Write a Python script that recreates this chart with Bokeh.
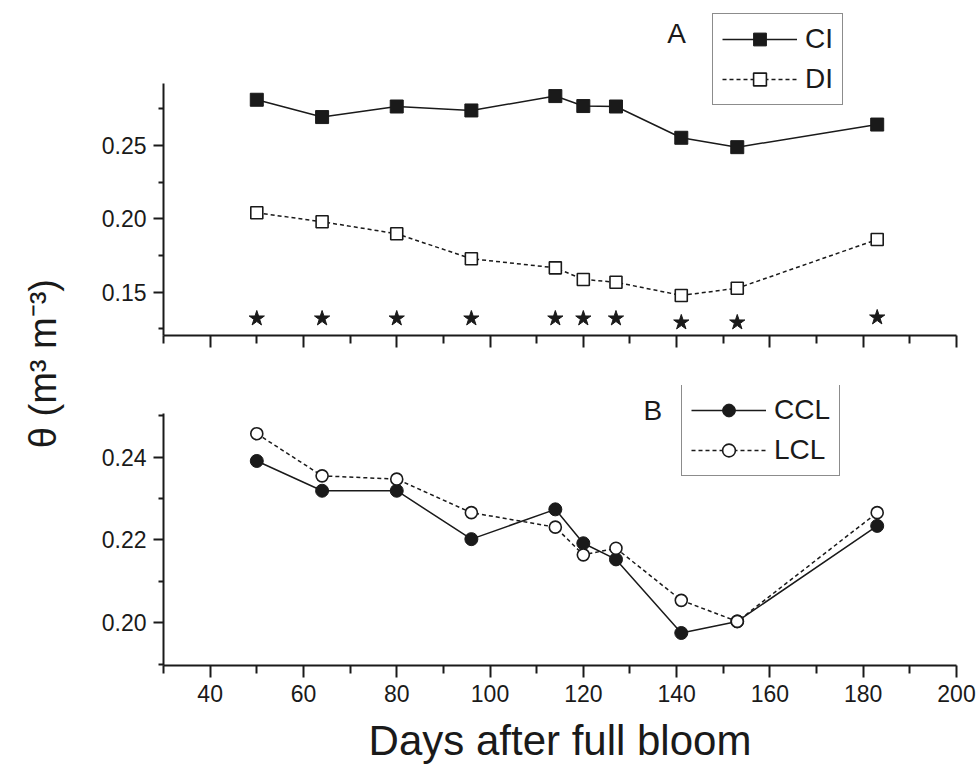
from bokeh.plotting import figure
from bokeh.layouts import row, column
from bokeh.models import (FixedTicker, PrintfTickFormatter, Legend, LegendItem, Label,
                          CustomJSTickFormatter, Range1d)
from bokeh.embed import file_html
from bokeh.resources import INLINE

# ---- data ----
days = [50, 64, 80, 96, 114, 120, 127, 141, 153, 183]
ci = [0.2811, 0.2693, 0.2765, 0.2738, 0.2836, 0.2768, 0.2765, 0.2552, 0.2488, 0.2642]
di = [0.2041, 0.1980, 0.1898, 0.1728, 0.1666, 0.1587, 0.1568, 0.1478, 0.1527, 0.1859]
star_y = [0.1321, 0.1321, 0.1321, 0.1321, 0.1321, 0.1321, 0.1321, 0.1294, 0.1294, 0.1328]
ccl = [0.2391, 0.2319, 0.2319, 0.2202, 0.2274, 0.2192, 0.2153, 0.1975, 0.2003, 0.2234]
lcl = [0.2457, 0.2355, 0.2347, 0.2266, 0.2231, 0.2164, 0.2180, 0.2054, 0.2003, 0.2266]

x_major = [40, 60, 80, 100, 120, 140, 160, 180, 200]
x_minor = [30, 50, 70, 90, 110, 130, 150, 170, 190]
ya_major = [0.15, 0.20, 0.25]
ya_minor = [0.125, 0.175, 0.225, 0.275]
yb_major = [0.20, 0.22, 0.24]
yb_minor = [0.19, 0.21, 0.23, 0.25]

FONT = "Liberation Sans"
INK = "#1a1a1a"
W = 910


def style(p, ymaj, ymin, bounds):
    p.xgrid.visible = False
    p.ygrid.visible = False
    p.outline_line_color = None
    p.background_fill_color = "white"
    p.border_fill_color = "white"
    p.xaxis.ticker = FixedTicker(ticks=x_major, minor_ticks=x_minor)
    p.yaxis.ticker = FixedTicker(ticks=ymaj, minor_ticks=ymin)
    p.yaxis.bounds = bounds
    p.yaxis.formatter = PrintfTickFormatter(format="%.2f")
    for ax in (p.xaxis, p.yaxis):
        ax.axis_line_width = 2
        ax.axis_line_color = INK
        ax.major_tick_line_width = 2
        ax.minor_tick_line_width = 2
        ax.major_tick_line_color = INK
        ax.minor_tick_line_color = INK
        ax.major_tick_in = 0
        ax.minor_tick_in = 0
        ax.major_label_text_font = FONT
        ax.major_label_text_font_size = "23px"
        ax.major_label_text_color = INK
    p.yaxis.major_tick_out = 10
    p.yaxis.minor_tick_out = 5
    p.yaxis.major_label_standoff = 7
    p.xaxis.major_tick_out = 12
    p.xaxis.minor_tick_out = 8
    p.xaxis.major_label_standoff = 7


def legend(p, items, loc):
    lg = Legend(items=items, location=loc, label_text_font=FONT, label_text_font_size="28px",
                label_text_color=INK, glyph_width=75, glyph_height=32, padding=9, spacing=8,
                label_standoff=8, margin=0, border_line_color=INK, border_line_width=1.5,
                background_fill_color="white", background_fill_alpha=1.0)
    p.add_layout(lg)


# ---- panel A ----
top = figure(width=W, height=360, x_range=Range1d(30, 200), y_range=Range1d(0.1205, 0.3419),
             output_backend="svg", toolbar_location=None,
             min_border_left=95, min_border_right=22, min_border_top=10, min_border_bottom=25)
style(top, ya_major, ya_minor, (0.1205, 0.2922))
top.xaxis.formatter = CustomJSTickFormatter(code="return ''")

l1 = top.line(days, ci, line_color=INK, line_width=1.5)
m1 = top.scatter(days, ci, marker="square", size=13, fill_color=INK, line_color=INK)
l2 = top.line(days, di, line_color=INK, line_width=1.5, line_dash="4 3")
m2 = top.scatter(days, di, marker="square", size=12, fill_color="white", line_color=INK, line_width=1.6)
top.scatter(days, star_y, marker="star", size=16, fill_color=INK, line_color=INK)
legend(top, [LegendItem(label="CI", renderers=[l1, m1]), LegendItem(label="DI", renderers=[l2, m2])], (549, 230))
top.add_layout(Label(x=140.0, y=0.3262, text="A", text_font=FONT, text_font_size="28px",
                     text_color=INK, text_align="center", text_baseline="middle"))

# ---- panel B ----
bot = figure(width=W, height=406, x_range=top.x_range, y_range=Range1d(0.18964, 0.25735),
             output_backend="svg", toolbar_location=None,
             min_border_left=95, min_border_right=22, min_border_top=25, min_border_bottom=100)
style(bot, yb_major, yb_minor, (0.18964, 0.2506))
bot.xaxis.axis_label = "Days after full bloom"
bot.xaxis.axis_label_text_font = FONT
bot.xaxis.axis_label_text_font_size = "42px"
bot.xaxis.axis_label_text_font_style = "normal"
bot.xaxis.axis_label_text_color = INK
bot.xaxis.axis_label_standoff = 12

l3 = bot.line(days, ccl, line_color=INK, line_width=1.5)
m3 = bot.scatter(days, ccl, marker="circle", size=13, fill_color=INK, line_color=INK)
l4 = bot.line(days, lcl, line_color=INK, line_width=1.5, line_dash="4 3")
m4 = bot.scatter(days, lcl, marker="circle", size=12, fill_color="white", line_color=INK, line_width=1.6)
legend(bot, [LegendItem(label="CCL", renderers=[l3, m3]), LegendItem(label="LCL", renderers=[l4, m4])], (518, 189))
bot.add_layout(Label(x=134.9, y=0.2513, text="B", text_font=FONT, text_font_size="28px",
                     text_color=INK, text_align="center", text_baseline="middle"))

# ---- shared y label ----
lab = figure(width=68, height=766, x_range=Range1d(0, 1), y_range=Range1d(0, 1),
             output_backend="svg", toolbar_location=None, x_axis_location=None, y_axis_location=None,
             min_border=0)
lab.xgrid.visible = False
lab.ygrid.visible = False
lab.outline_line_color = None
lab.add_layout(Label(x=0.618, y=0.526, text="θ (m³ m⁻³)", angle=90, angle_units="deg",
                     text_font=FONT, text_font_size="38px", text_color=INK,
                     text_align="center", text_baseline="middle"))

layout = row(lab, column(top, bot))
open("out.html", "w").write(file_html(layout, INLINE))
